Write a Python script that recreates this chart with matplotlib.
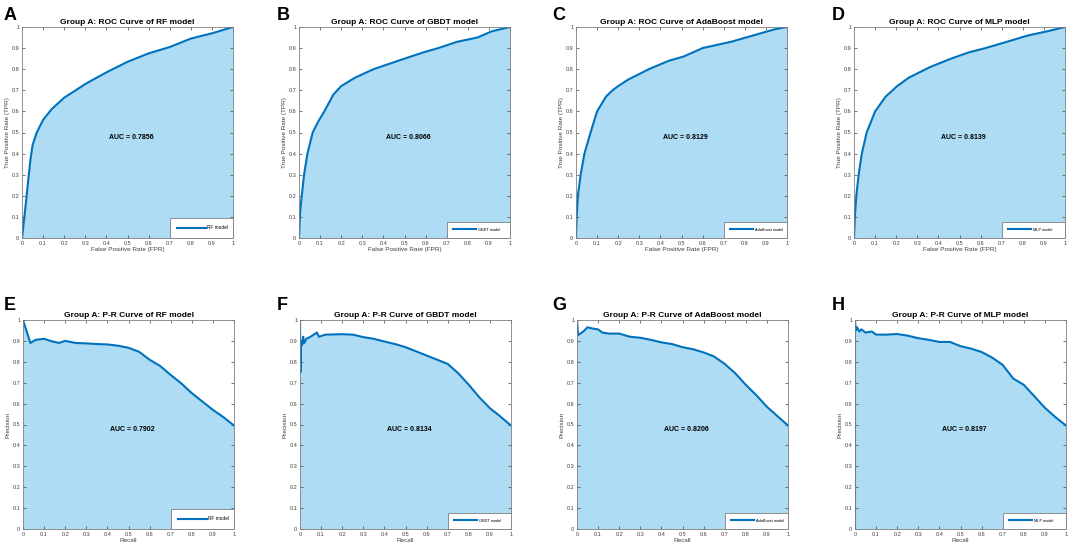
import numpy as np
import matplotlib
matplotlib.use('Agg')
import matplotlib.pyplot as plt
from matplotlib.ticker import FormatStrFormatter

plt.rcParams['font.family'] = ['Liberation Sans', 'DejaVu Sans']

models = ['RF', 'GBDT', 'AdaBoost', 'MLP']
roc_auc = ['0.7856', '0.8066', '0.8129', '0.8139']
pr_auc = ['0.7902', '0.8134', '0.8206', '0.8197']

# ROC curves (FPR, TPR)
rf_fpr = [0, 0.01, 0.02, 0.03, 0.04, 0.05, 0.07, 0.1, 0.14, 0.2, 0.27, 0.3, 0.4, 0.5, 0.6, 0.7, 0.8, 0.9, 1.0]
rf_tpr = [0, 0.09, 0.18, 0.28, 0.37, 0.44, 0.5, 0.56, 0.61, 0.665, 0.71, 0.73, 0.785, 0.835, 0.875, 0.905, 0.945, 0.97, 1.0]
gbdt_fpr = [0, 0.005, 0.013, 0.024, 0.04, 0.065, 0.09, 0.12, 0.163, 0.2, 0.266, 0.353, 0.47, 0.59, 0.66, 0.75, 0.845, 0.915, 1.0]
gbdt_tpr = [0, 0.12, 0.2, 0.3, 0.4, 0.5, 0.55, 0.6, 0.68, 0.72, 0.76, 0.8, 0.84, 0.88, 0.9, 0.93, 0.95, 0.98, 1.0]
ada_fpr = [0, 0.003, 0.009, 0.022, 0.04, 0.069, 0.1, 0.142, 0.173, 0.2, 0.246, 0.345, 0.44, 0.51, 0.6, 0.735, 0.875, 0.945, 1.0]
ada_tpr = [0, 0.1, 0.2, 0.3, 0.4, 0.5, 0.6, 0.67, 0.7, 0.72, 0.75, 0.8, 0.84, 0.86, 0.9, 0.93, 0.97, 0.99, 1.0]
mlp_fpr = [0, 0.004, 0.011, 0.022, 0.037, 0.06, 0.1, 0.15, 0.205, 0.26, 0.36, 0.46, 0.545, 0.623, 0.725, 0.825, 0.918, 1.0]
mlp_tpr = [0, 0.1, 0.2, 0.3, 0.4, 0.5, 0.6, 0.67, 0.72, 0.76, 0.81, 0.85, 0.88, 0.9, 0.93, 0.96, 0.98, 1.0]

# P-R curves (recall, precision)
rf_rec = [0, 0.035, 0.06, 0.1, 0.13, 0.17, 0.2, 0.25, 0.3, 0.35, 0.4, 0.45, 0.5, 0.55, 0.6, 0.65, 0.7, 0.75, 0.8, 0.85, 0.9, 0.95, 1.0]
rf_prec = [1.0, 0.89, 0.905, 0.91, 0.9, 0.89, 0.9, 0.89, 0.888, 0.885, 0.883, 0.877, 0.867, 0.848, 0.81, 0.78, 0.737, 0.697, 0.65, 0.61, 0.57, 0.535, 0.495]
gbdt_rec = [0, 0.002, 0.005, 0.01, 0.015, 0.02, 0.03, 0.05, 0.08, 0.09, 0.12, 0.2, 0.25, 0.3, 0.35, 0.4, 0.45, 0.5, 0.55, 0.6, 0.65, 0.7, 0.75, 0.8, 0.85, 0.9, 0.95, 1.0]
gbdt_prec = [1.0, 0.75, 0.9, 0.88, 0.92, 0.89, 0.91, 0.92, 0.94, 0.92, 0.93, 0.932, 0.93, 0.918, 0.91, 0.897, 0.885, 0.87, 0.85, 0.83, 0.81, 0.79, 0.745, 0.69, 0.63, 0.578, 0.538, 0.495]
ada_rec = [0, 0.005, 0.03, 0.05, 0.07, 0.1, 0.12, 0.15, 0.2, 0.25, 0.3, 0.35, 0.4, 0.45, 0.5, 0.55, 0.6, 0.65, 0.7, 0.75, 0.8, 0.85, 0.9, 0.95, 1.0]
ada_prec = [1.0, 0.928, 0.945, 0.965, 0.96, 0.955, 0.94, 0.935, 0.935, 0.92, 0.915, 0.905, 0.893, 0.885, 0.87, 0.86, 0.845, 0.825, 0.79, 0.745, 0.69, 0.64, 0.585, 0.54, 0.495]
mlp_rec = [0, 0, 0.003, 0.01, 0.02, 0.03, 0.05, 0.08, 0.1, 0.15, 0.2, 0.25, 0.3, 0.35, 0.4, 0.45, 0.5, 0.55, 0.6, 0.65, 0.7, 0.75, 0.8, 0.85, 0.9, 0.95, 1.0]
mlp_prec = [0, 1.0, 0.95, 0.965, 0.945, 0.955, 0.94, 0.945, 0.93, 0.93, 0.933, 0.925, 0.913, 0.905, 0.895, 0.895, 0.875, 0.863, 0.847, 0.82, 0.785, 0.72, 0.69, 0.635, 0.58, 0.535, 0.495]

roc_curves = [(rf_fpr, rf_tpr), (gbdt_fpr, gbdt_tpr), (ada_fpr, ada_tpr), (mlp_fpr, mlp_tpr)]
pr_curves = [(rf_rec, rf_prec), (gbdt_rec, gbdt_prec), (ada_rec, ada_prec), (mlp_rec, mlp_prec)]

line_col = '#0072BD'
fill_col = '#addcf4'
W, H = 1072, 546

fig = plt.figure(figsize=(W / 100, H / 100), dpi=100)

col_left = [22, 299, 576, 854]
letter_x = [4, 277, 552, 832]


def draw_panel(ax, x, y, title, xlab, ylab, auc, name, leg_fs):
    ax.fill_between(x, y, 0, color=fill_col, linewidth=0)
    ax.plot(x, y, color=line_col, linewidth=1.5, label=name + ' model')
    ax.set_xlim(0, 1)
    ax.set_ylim(0, 1)
    ax.set_xticks(np.arange(0, 1.01, 0.1))
    ax.set_yticks(np.arange(0, 1.01, 0.1))
    ax.xaxis.set_major_formatter(FormatStrFormatter('%g'))
    ax.yaxis.set_major_formatter(FormatStrFormatter('%g'))
    ax.tick_params(direction='in', top=True, right=True, length=2, width=0.5,
                   labelsize=4, pad=2, colors='#404040')
    for s in ax.spines.values():
        s.set_color('#808080')
        s.set_linewidth(0.6)
    ax.set_title(title, fontsize=6.0, fontweight='bold', pad=2)
    ax.set_xlabel(xlab, fontsize=4.6, labelpad=1, color='#404040')
    ax.set_ylabel(ylab, fontsize=4.6, labelpad=1, color='#404040')
    ax.text(0.52, 0.475, 'AUC = ' + auc, fontsize=5, fontweight='bold',
            ha='center', va='center')
    leg = ax.legend(loc='lower left', bbox_to_anchor=(0.7, 0.0, 0.3, 0.09), mode='expand',
                    fontsize=leg_fs, fancybox=False, borderaxespad=0, borderpad=1.6,
                    handlelength=6, handletextpad=0.4, framealpha=1)
    leg.get_frame().set_edgecolor('#808080')
    leg.get_frame().set_linewidth(0.6)


for i in range(4):
    leg_fs = 3.4 if i == 0 else 2.8
    ax = fig.add_axes([col_left[i] / W, 1 - 238 / H, 211 / W, 211 / H])
    x, y = roc_curves[i]
    draw_panel(ax, x, y, 'Group A: ROC Curve of %s model' % models[i],
               'False Positive Rate (FPR)', 'True Positive Rate (TPR)',
               roc_auc[i], models[i], leg_fs)
    fig.text(letter_x[i] / W, 1 - 15 / H, 'ABCD'[i], fontsize=13, fontweight='bold',
             ha='left', va='center')

    ax = fig.add_axes([(col_left[i] + 1) / W, 1 - 529 / H, 211 / W, 209 / H])
    x, y = pr_curves[i]
    draw_panel(ax, x, y, 'Group A: P-R Curve of %s model' % models[i],
               'Recall', 'Precision', pr_auc[i], models[i], leg_fs)
    fig.text(letter_x[i] / W, 1 - 306 / H, 'EFGH'[i], fontsize=13, fontweight='bold',
             ha='left', va='center')

fig.savefig('out.png', dpi=100)
